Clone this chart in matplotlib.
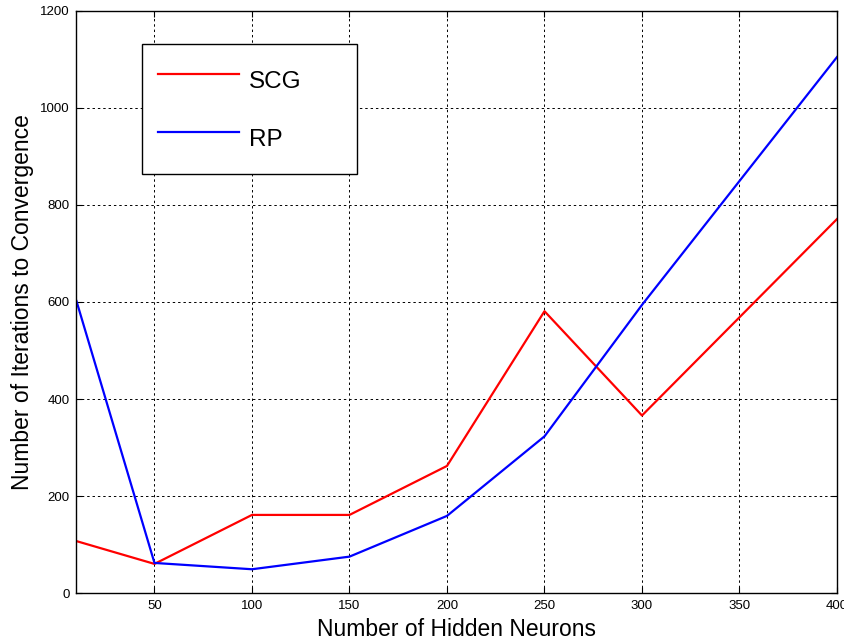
import matplotlib.pyplot as plt

# hidden neuron counts and iterations to convergence
neurons = [10, 50, 100, 150, 200, 250, 300, 400]
scg_iters = [107, 60, 161, 161, 262, 581, 366, 771]
rp_iters = [602, 62, 49, 75, 159, 323, 594, 1105]

xticks = [50, 100, 150, 200, 250, 300, 350, 400]
yticks = [0, 200, 400, 600, 800, 1000, 1200]

plt.rcParams['font.family'] = ['Liberation Sans', 'DejaVu Sans']

fig = plt.figure(figsize=(8.44, 6.42), dpi=100)
ax = fig.add_axes([0.0906, 0.0763, 0.9011, 0.9066])

ax.plot(neurons, scg_iters, color='#ff0000', lw=1.6, label='SCG')
ax.plot(neurons, rp_iters, color='#0000ff', lw=1.6, label='RP')

ax.set_xlim(10, 400)
ax.set_ylim(0, 1200)
ax.set_xticks(xticks)
ax.set_yticks(yticks)
ax.tick_params(direction='in', length=4, labelsize=9.5, top=True, right=True, pad=5)
ax.grid(True, color='black', linestyle=(0, (2.5, 3)), linewidth=0.7)
for s in ax.spines.values():
    s.set_linewidth(1.0)

ax.set_xlabel('Number of Hidden Neurons', fontsize=16.5, labelpad=4)
ax.set_ylabel('Number of Iterations to Convergence', fontsize=16.5, labelpad=4)

leg = ax.legend(loc='upper left', bbox_to_anchor=(0.0857, 0.727, 0.2833, 0.216),
                mode='expand', borderaxespad=0,
                fontsize=17.5, fancybox=False, edgecolor='black', framealpha=1,
                handlelength=3.33, handleheight=2.1, labelspacing=0.78,
                borderpad=0.68, handletextpad=0.4)
leg.get_frame().set_linewidth(1.0)

fig.savefig('out.png', dpi=100)
